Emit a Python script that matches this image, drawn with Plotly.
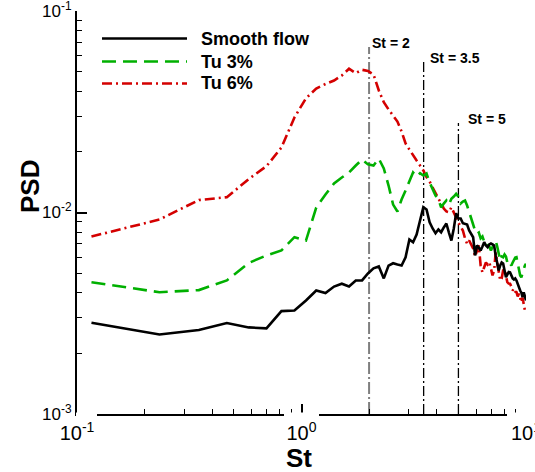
import math
import plotly.graph_objects as go

# ---------------- data ----------------
st = [0.116, 0.233, 0.349, 0.465, 0.582, 0.698, 0.814, 0.930, 1.047, 1.163,
      1.279, 1.396, 1.512, 1.628, 1.745, 1.861, 1.977, 2.093, 2.210, 2.326,
      2.442, 2.559, 2.675, 2.791, 2.908, 3.024, 3.140, 3.256, 3.373, 3.489,
      3.605, 3.722, 3.838, 3.954, 4.071, 4.187, 4.303, 4.419, 4.536, 4.652,
      4.768, 4.885, 5.001, 5.117, 5.234, 5.350, 5.466, 5.582, 5.699, 5.815,
      5.931, 6.048, 6.164, 6.280, 6.397, 6.513, 6.629, 6.745, 6.862, 6.978,
      7.094, 7.211, 7.327, 7.443, 7.560, 7.676, 7.792, 7.908, 8.025, 8.141,
      8.257, 8.374, 8.490, 8.606, 8.723, 8.839, 8.955, 9.071, 9.188, 9.304,
      9.420, 9.537, 9.653, 9.769, 9.886, 10.0]

psd_smooth = [0.00284, 0.00248, 0.00261, 0.00283, 0.00269, 0.00266, 0.00324, 0.00326, 0.00366, 0.00410,
              0.00398, 0.00429, 0.00443, 0.00429, 0.00460, 0.00460, 0.00498, 0.00528, 0.00540, 0.00471,
              0.00545, 0.00560, 0.00552, 0.00546, 0.00600, 0.00735, 0.00712, 0.00778, 0.00913, 0.01062,
              0.01035, 0.00895, 0.00833, 0.00789, 0.00823, 0.00798, 0.00843, 0.00882, 0.00795, 0.00726,
              0.00833, 0.00992, 0.00934, 0.00934, 0.00885, 0.00882, 0.00872, 0.00814, 0.00787, 0.00754,
              0.00612, 0.00686, 0.00670, 0.00648, 0.00678, 0.00712, 0.00686, 0.00673, 0.00694, 0.00702,
              0.00694, 0.00686, 0.00612, 0.00565, 0.00516, 0.00546, 0.00565, 0.00558, 0.00516, 0.00477,
              0.00492, 0.00506, 0.00504, 0.00481, 0.00471, 0.00465, 0.00471, 0.00460, 0.00439, 0.00420,
              0.00410, 0.00400, 0.00380, 0.00402, 0.00382, 0.00366]

psd_tu3 = [0.00451, 0.00402, 0.00412, 0.00460, 0.00562, 0.00612, 0.00648, 0.00754, 0.00726, 0.01058,
           0.01228, 0.01394, 0.01491, 0.01580, 0.01711, 0.01833, 0.01733, 0.01711, 0.01850, 0.01654,
           0.01361, 0.01095, 0.01011, 0.01160, 0.01286, 0.01441, 0.01580, 0.01509, 0.01567, 0.01526,
           0.01561, 0.01409, 0.01315, 0.01214, 0.01170, 0.01059, 0.01108, 0.01147, 0.01095, 0.01170,
           0.01200, 0.01238, 0.01200, 0.01108, 0.01133, 0.01147, 0.01083, 0.01003, 0.00934, 0.00872,
           0.00814, 0.00784, 0.00795, 0.00744, 0.00760, 0.00718, 0.00726, 0.00694, 0.00678, 0.00648,
           0.00678, 0.00702, 0.00726, 0.00678, 0.00626, 0.00578, 0.00605, 0.00600, 0.00619, 0.00605,
           0.00565, 0.00546, 0.00558, 0.00546, 0.00565, 0.00584, 0.00597, 0.00600, 0.00565, 0.00516,
           0.00487, 0.00477, 0.00504, 0.00527, 0.00546, 0.00556]

psd_tu6 = [0.00760, 0.00923, 0.01153, 0.01191, 0.01465, 0.01697, 0.02101, 0.02961, 0.03687, 0.04125,
           0.04341, 0.04520, 0.04784, 0.05168, 0.04913, 0.05108, 0.05037, 0.04838, 0.04030, 0.03526,
           0.03247, 0.03030, 0.02828, 0.02523, 0.02200, 0.02055, 0.01940, 0.01811, 0.01711, 0.01616,
           0.01497, 0.01425, 0.01331, 0.01238, 0.01174, 0.01108, 0.01047, 0.01012, 0.01003, 0.01062,
           0.01000, 0.00934, 0.00892, 0.00852, 0.00814, 0.00744, 0.00699, 0.00726, 0.00694, 0.00663,
           0.00605, 0.00648, 0.00686, 0.00546, 0.00504, 0.00535, 0.00565, 0.00552, 0.00567, 0.00527,
           0.00487, 0.00516, 0.00633, 0.00565, 0.00504, 0.00460, 0.00471, 0.00516, 0.00525, 0.00487,
           0.00451, 0.00444, 0.00443, 0.00429, 0.00410, 0.00420, 0.00405, 0.00402, 0.00383, 0.00396,
           0.00380, 0.00358, 0.00378, 0.00346, 0.00327, 0.00339]

series_names = ["Smooth flow", "Tu 3%", "Tu 6%"]

ref_st = [2, 3.5, 5]
ref_top = [0.0663, 0.0558, 0.0278]
ref_labels = ["St = 2", "St = 3.5", "St = 5"]

x_tickvals = [0.1, 1, 10]
x_ticktext = ["10<sup>-1</sup>", "10<sup>0</sup>", "10<sup>1</sup>"]
y_tickvals = [0.001, 0.01, 0.1]
y_ticktext = ["10<sup>-3</sup>", "10<sup>-2</sup>", "10<sup>-1</sup>"]

# ---------------- styles ----------------
FONT = "Liberation Sans, Arial, sans-serif"
colors = ["#000000", "#00b000", "#d40000"]
dashes = ["solid", "14px,7px", "10px,4px,2px,4px"]
ref_colors = ["#7f7f7f", "#000000", "#000000"]
ref_widths = [2, 1.3, 1.3]
ref_dash = ["12px,3px,2px,3px", "10px,3px,2px,3px", "10px,3px,2px,3px"]
ref_xshift = [1, 4, 8]

W, H = 535, 472
ML, MR, MT, MB = 77, 9, 11, 58
pw, ph = W - ML - MR, H - MT - MB


def px2paper(px, py):
    return (px - ML) / pw, (H - MB - py) / ph


fig = go.Figure()

# reference lines
for xv, top, c, w, d in zip(ref_st, ref_top, ref_colors, ref_widths, ref_dash):
    fig.add_trace(go.Scatter(x=[xv, xv], y=[0.001, top], mode="lines",
                             line=dict(color=c, width=w, dash=d),
                             showlegend=False, hoverinfo="skip"))

# PSD curves (red first, black last on top)
for name, ys, c, d in reversed(list(zip(series_names, [psd_smooth, psd_tu3, psd_tu6], colors, dashes))):
    fig.add_trace(go.Scatter(x=st, y=ys, mode="lines", name=name,
                             line=dict(color=c, width=2.6, dash=d),
                             showlegend=False))

# reference line labels
for xv, top, lab, xs in zip(ref_st, ref_top, ref_labels, ref_xshift):
    fig.add_annotation(x=math.log10(xv), y=math.log10(top), xref="x", yref="y",
                       text="<b>" + lab + "</b>", showarrow=False,
                       xanchor="left", yanchor="middle", xshift=xs, yshift=4,
                       font=dict(family=FONT, size=14, color="black"))

# custom legend (long line samples like the reference)
leg_rows = [38.5, 61.5, 83.5]
for name, c, d, py in zip(series_names, colors, dashes, leg_rows):
    x0, y0 = px2paper(102, py)
    x1, _ = px2paper(187, py)
    fig.add_shape(type="line", xref="paper", yref="paper", x0=x0, x1=x1, y0=y0, y1=y0,
                  line=dict(color=c, width=2.6, dash=d))
    tx, _ = px2paper(199, py)
    fig.add_annotation(x=tx, y=y0, xref="paper", yref="paper", text="<b>" + name + "</b>",
                       showarrow=False, xanchor="left", yanchor="middle",
                       font=dict(family=FONT, size=18, color="black"))

# white label boxes interrupting the bottom axis line (as in the reference)
for gx0, gx1 in [(76, 97), (284, 319), (507, 530)]:
    a0, b0 = px2paper(gx0, 416.5)
    a1, b1 = px2paper(gx1, 412.5)
    fig.add_shape(type="rect", xref="paper", yref="paper", x0=a0, x1=a1, y0=b0, y1=b1,
                  fillcolor="white", line=dict(width=0), layer="above")

# axis titles
sx, sy = px2paper(299, 458)
fig.add_annotation(x=sx, y=sy, xref="paper", yref="paper", text="<b>St</b>", showarrow=False,
                   xanchor="center", yanchor="middle", borderpad=0,
                   font=dict(family=FONT, size=26, color="black"))
px_, py_ = px2paper(30, 187)
fig.add_annotation(x=px_, y=py_, xref="paper", yref="paper", text="<b>PSD</b>", showarrow=False,
                   textangle=-90, xanchor="center", yanchor="middle", borderpad=0,
                   font=dict(family=FONT, size=26, color="black"))

axis_common = dict(type="log", showline=True, linecolor="black", linewidth=2,
                   ticks="inside", ticklen=10, tickwidth=1.5, tickcolor="black",
                   showgrid=False, zeroline=False, mirror=False,
                   ticklabeloverflow="allow", automargin=False)

fig.update_layout(
    width=W, height=H,
    margin=dict(l=ML, r=MR, t=MT, b=MB, pad=0, autoexpand=False),
    paper_bgcolor="white", plot_bgcolor="white",
    font=dict(family=FONT, color="black"),
    showlegend=False,
    xaxis=dict(range=[-1, 1], tickmode="array", tickvals=x_tickvals, ticktext=x_ticktext,
               tickfont=dict(family=FONT, size=20, color="black"),
               minor=dict(ticks="inside", ticklen=5, tickwidth=1, tickcolor="black",
                          dtick="D1", showgrid=False),
               **axis_common),
    yaxis=dict(range=[-3, -1], tickmode="array", tickvals=y_tickvals, ticktext=y_ticktext,
               tickfont=dict(family=FONT, size=17, color="black"),
               minor=dict(ticks="inside", ticklen=5, tickwidth=1, tickcolor="black",
                          dtick="D1", showgrid=False),
               **axis_common),
)

fig.write_html("out.html")
